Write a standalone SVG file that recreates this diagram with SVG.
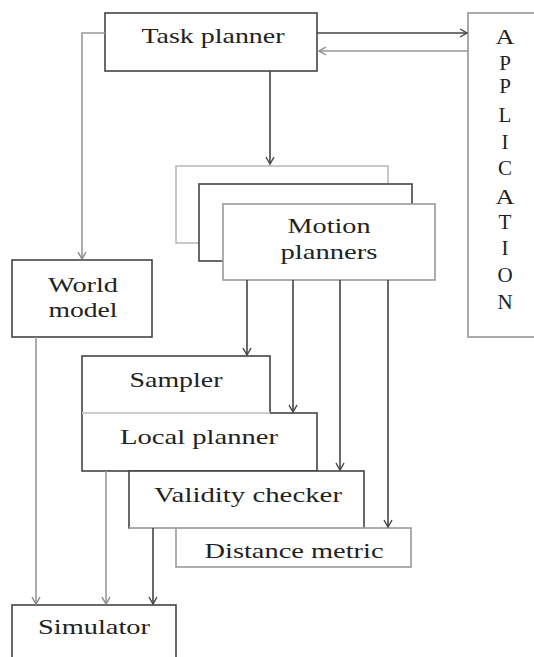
<svg xmlns="http://www.w3.org/2000/svg" width="534" height="657" viewBox="0 0 534 657" font-family="Liberation Serif, serif">
<style>
.t{font-size:22px;fill:#222;text-anchor:middle}
.b{fill:#fff;stroke:#444;stroke-width:1.6}
.g{fill:#fff;stroke:#999;stroke-width:1.6}
.c{fill:none;stroke:#444;stroke-width:1.6}
.cg{fill:none;stroke:#999;stroke-width:1.6}
</style>
<defs>
<marker id="a" markerUnits="userSpaceOnUse" markerWidth="12" markerHeight="12" refX="8" refY="5" orient="auto">
<path d="M1,1 L8,5 L1,9" fill="none" stroke="#444" stroke-width="1.4"/>
</marker>
<marker id="ag" markerUnits="userSpaceOnUse" markerWidth="12" markerHeight="12" refX="8" refY="5" orient="auto">
<path d="M1,1 L8,5 L1,9" fill="none" stroke="#888" stroke-width="1.4"/>
</marker>
</defs>
<rect width="534" height="657" fill="#fff"/>
<g id="application">
<rect x="468" y="13" width="80" height="324" fill="#fff" stroke="#aaa" stroke-width="2"/>
<g class="t" font-family="Liberation Serif" style="font-size:21px">
<text x="505" y="44" textLength="19" lengthAdjust="spacingAndGlyphs">A</text>
<text x="505" y="70">P</text>
<text x="505" y="93">P</text>
<text x="505" y="122">L</text>
<text x="505" y="149">I</text>
<text x="505" y="175">C</text>
<text x="505" y="204" textLength="19" lengthAdjust="spacingAndGlyphs">A</text>
<text x="505" y="229">T</text>
<text x="505" y="255">I</text>
<text x="505" y="282">O</text>
<text x="505" y="309">N</text>
</g>
</g>
<g id="task-planner">
<rect class="b" x="105" y="13" width="212" height="58"/>
<text class="t" font-family="Liberation Serif" x="213" y="43" textLength="143" lengthAdjust="spacingAndGlyphs">Task planner</text>
</g>
<g id="motion-planners">
<rect x="176" y="166" width="212" height="77" fill="#fff" stroke="#bbb" stroke-width="1.6"/>
<rect class="b" x="199" y="184" width="213" height="77"/>
<rect class="g" x="223" y="204" width="212" height="76"/>
<text class="t" font-family="Liberation Serif" x="329" y="233" textLength="83" lengthAdjust="spacingAndGlyphs">Motion</text>
<text class="t" font-family="Liberation Serif" x="329" y="259" textLength="97" lengthAdjust="spacingAndGlyphs">planners</text>
</g>
<g id="world-model">
<rect class="b" x="12" y="260" width="140" height="77"/>
<text class="t" font-family="Liberation Serif" x="83" y="292" textLength="70" lengthAdjust="spacingAndGlyphs">World</text>
<text class="t" font-family="Liberation Serif" x="83" y="317" textLength="69" lengthAdjust="spacingAndGlyphs">model</text>
</g>
<g id="sampler">
<rect class="b" x="82" y="356" width="188" height="57"/>
<text class="t" font-family="Liberation Serif" x="176" y="387" textLength="93" lengthAdjust="spacingAndGlyphs">Sampler</text>
</g>
<g id="local-planner">
<rect class="b" x="82" y="413" width="235" height="58"/>
<line x1="82" y1="413" x2="270" y2="413" stroke="#ccc" stroke-width="1.8"/>
<text class="t" font-family="Liberation Serif" x="199" y="444" textLength="158" lengthAdjust="spacingAndGlyphs">Local planner</text>
</g>
<g id="validity-checker">
<rect class="b" x="129" y="471" width="235" height="57"/>
<line x1="129" y1="528" x2="364" y2="528" stroke="#aaa" stroke-width="1.8"/>
<text class="t" font-family="Liberation Serif" x="248" y="502" textLength="188" lengthAdjust="spacingAndGlyphs">Validity checker</text>
</g>
<g id="distance-metric">
<rect class="g" x="176" y="528" width="235" height="39"/>
<line x1="176" y1="528" x2="364" y2="528" stroke="#aaa" stroke-width="1.8"/>
<text class="t" font-family="Liberation Serif" x="294" y="558" textLength="179" lengthAdjust="spacingAndGlyphs">Distance metric</text>
</g>
<g id="simulator">
<rect class="b" x="12" y="605" width="164" height="70"/>
<text class="t" font-family="Liberation Serif" x="94" y="634" textLength="112" lengthAdjust="spacingAndGlyphs">Simulator</text>
</g>
<g id="connectors">
<line class="c" x1="317" y1="33" x2="467" y2="33" marker-end="url(#a)"/>
<line class="cg" x1="468" y1="51" x2="319" y2="51" marker-end="url(#ag)"/>
<polyline class="cg" points="105,33 82,33 82,259" marker-end="url(#ag)"/>
<line class="c" x1="270" y1="71" x2="270" y2="164" marker-end="url(#a)"/>
<line class="c" x1="247" y1="280" x2="247" y2="355" marker-end="url(#a)"/>
<line class="c" x1="293" y1="280" x2="293" y2="412" marker-end="url(#a)"/>
<line class="c" x1="340" y1="280" x2="340" y2="470" marker-end="url(#a)"/>
<line class="c" x1="388" y1="280" x2="388" y2="527" marker-end="url(#a)"/>
<line class="cg" x1="36" y1="337" x2="36" y2="604" marker-end="url(#ag)"/>
<line class="cg" x1="106" y1="471" x2="106" y2="604" marker-end="url(#ag)"/>
<line class="c" x1="153" y1="528" x2="153" y2="604" marker-end="url(#a)"/>
</g>
</svg>
